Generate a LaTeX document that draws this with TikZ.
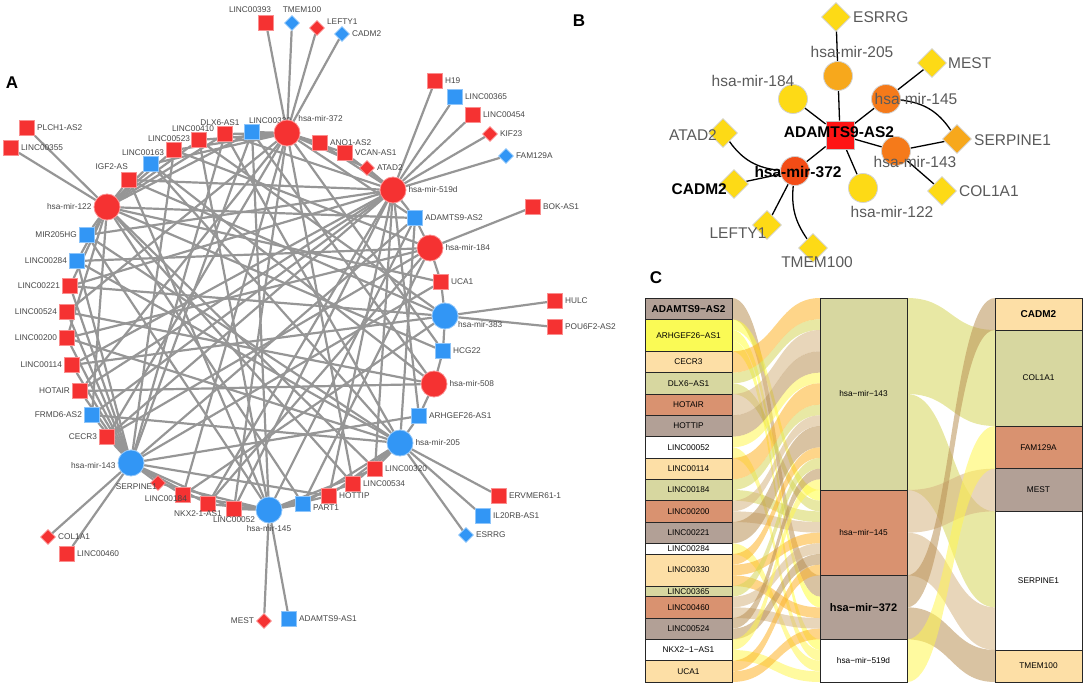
\documentclass[tikz,border=0pt]{standalone}
\usepackage{fontspec}
\setmainfont{Liberation Sans}
\usetikzlibrary{shapes.geometric}
\pgfdeclarelayer{bg}
\pgfsetlayers{bg,main}
% panel A colours
\definecolor{ared}{RGB}{245,50,50}
\definecolor{ablue}{RGB}{50,150,245}
\definecolor{agray}{RGB}{150,150,150}
\definecolor{atext}{RGB}{70,70,70}
% panel B colours
\definecolor{bred}{RGB}{255,20,20}
\definecolor{byel}{RGB}{253,218,22}
\definecolor{bora}{RGB}{247,168,28}
\definecolor{bdor}{RGB}{245,122,26}
\definecolor{bver}{RGB}{243,76,22}
\definecolor{btext}{RGB}{90,90,90}
% panel C colours
\definecolor{cTaupe}{RGB}{178,160,150}
\definecolor{cYel}{RGB}{250,250,85}
\definecolor{cOra}{RGB}{253,223,166}
\definecolor{cOli}{RGB}{215,215,160}
\definecolor{cSal}{RGB}{217,146,112}
\definecolor{fTaupe}{RGB}{185,145,85}
\definecolor{fYel}{RGB}{255,255,60}
\definecolor{fOra}{RGB}{253,178,40}
\definecolor{fOli}{RGB}{214,214,90}
\definecolor{fSal}{RGB}{214,180,130}
\definecolor{fWhi}{RGB}{255,245,80}
\newcommand{\cnorm}{\fontsize{8.3}{9}\selectfont}
\newcommand{\cbold}{\fontsize{10}{11}\selectfont\bfseries}
\newcommand{\cbig}{\fontsize{11}{12}\selectfont\bfseries}
% alluvial band: x1, slot1, x2, slot2, width, colour
\newcommand{\cflow}[6]{%
  \fill[flow=#6] (#1,{298+10.667*(#2)}) .. controls ({(#1+#3)/2},{298+10.667*(#2)}) and ({(#1+#3)/2},{298+10.667*(#4)}) .. (#3,{298+10.667*(#4)})
    -- (#3,{298+10.667*(#4+#5)}) .. controls ({(#1+#3)/2},{298+10.667*(#4+#5)}) and ({(#1+#3)/2},{298+10.667*(#2+#5)}) .. (#1,{298+10.667*(#2+#5)}) -- cycle;}
\tikzset{
  asq/.style={rectangle, fill=#1, draw=#1!55!white, line width=0.8pt, minimum size=15pt, inner sep=0pt},
  adia/.style={diamond, fill=#1, draw=#1!55!white, line width=0.8pt, minimum size=15pt, inner sep=0pt},
  acir/.style={circle, fill=#1, draw=#1!55!white, line width=0.8pt, minimum size=26pt, inner sep=0pt},
  alab/.style={font=\fontsize{8.3}{9}\selectfont, text=atext, inner sep=1pt},
  aline/.style={draw=agray, line width=2.2pt},
  bcir/.style={circle, fill=#1, draw=gray!35, line width=0.8pt, minimum size=29pt, inner sep=0pt},
  bdia/.style={diamond, fill=#1, draw=gray!35, line width=0.8pt, minimum size=29pt, inner sep=0pt},
  bsq/.style={rectangle, fill=bred, draw=gray!45, line width=0.8pt, minimum size=28pt, inner sep=0pt},
  blab/.style={font=\fontsize{15.5}{17}\selectfont, text=btext, inner sep=0pt},
  bbold/.style={font=\fontsize{15.5}{17}\selectfont\bfseries, text=black, inner sep=0pt},
  bline/.style={draw=black, line width=1.3pt},
  cbox/.style={rectangle, fill=#1, draw=black!85, line width=0.8pt, minimum width=87pt, inner sep=0pt},
  flow/.style={fill=#1, fill opacity=0.55},
  panel/.style={font=\fontsize{17}{18}\selectfont\bfseries}
}
\begin{document}
\begin{tikzpicture}[x=1pt,y=-1pt,label distance=1pt]
  \useasboundingbox (0,0) rectangle (1084,684);
  \node[panel] (labA) at (12,83) {A};
  \node[panel] (labB) at (579,21) {B};
  \node[panel] (labC) at (656,278) {C};

  % ---------------- panel A ----------------
  % outer targets
  \node[asq=ared, label={[alab]right:PLCH1-AS2}] (aPLCH) at (27,128) {};
  \node[asq=ared, label={[alab]right:LINC00355}] (aL355) at (11,148) {};
  \node[asq=ared, label={[alab,xshift=-16pt]above:LINC00393}] (aL393) at (266,23) {};
  \node[adia=ablue, label={[alab,xshift=10pt]above:TMEM100}] (aTMEM) at (292,23) {};
  \node[adia=ared, label={[alab,yshift=6pt]right:LEFTY1}] (aLEFTY) at (317,28) {};
  \node[adia=ablue, label={[alab]right:CADM2}] (aCADM2) at (342,34) {};
  \node[asq=ared, label={[alab]right:H19}] (aH19) at (435,81) {};
  \node[asq=ablue, label={[alab]right:LINC00365}] (aL365) at (455,97) {};
  \node[asq=ared, label={[alab]right:LINC00454}] (aL454) at (473,115) {};
  \node[adia=ared, label={[alab]right:KIF23}] (aKIF23) at (490,134) {};
  \node[adia=ablue, label={[alab]right:FAM129A}] (aFAM) at (506,156) {};
  \node[asq=ared, label={[alab]right:BOK-AS1}] (aBOK) at (533,207) {};
  \node[asq=ared, label={[alab]right:HULC}] (aHULC) at (555,301) {};
  \node[asq=ared, label={[alab]right:POU6F2-AS2}] (aPOU) at (555,327) {};
  \node[asq=ared, label={[alab]right:ERVMER61-1}] (aERV) at (499,496) {};
  \node[asq=ablue, label={[alab]right:IL20RB-AS1}] (aIL20) at (483,516) {};
  \node[adia=ablue, label={[alab]right:ESRRG}] (aESRRG) at (466,535) {};
  \node[adia=ared, label={[alab]left:MEST}] (aMEST) at (264,621) {};
  \node[asq=ablue, label={[alab]right:ADAMTS9-AS1}] (aADAS1) at (289,619) {};
  \node[adia=ared, label={[alab]right:COL1A1}] (aCOL1) at (48,537) {};
  \node[asq=ared, label={[alab]right:LINC00460}] (aL460) at (67,554) {};
  % ring of lncRNAs
  \node[asq=ared, label={[alab,anchor=south east]north:IGF2-AS}] (aIGF2) at (129,180) {};
  \node[asq=ablue, label={[alab,xshift=-8pt,yshift=-2pt]above:LINC00163}] (aL163) at (151,164) {};
  \node[asq=ared, label={[alab,xshift=-5pt,yshift=-2pt]above:LINC00523}] (aL523) at (174,150) {};
  \node[asq=ared, label={[alab,xshift=-6pt,yshift=-2pt]above:LINC00410}] (aL410) at (199,140) {};
  \node[asq=ared, label={[alab,xshift=-5pt,yshift=-2pt]above:DLX6-AS1}] (aDLX6) at (225,134) {};
  \node[asq=ablue, label={[alab,xshift=18pt,yshift=-2pt]above:LINC00330}] (aL330) at (252,132) {};
  \node[asq=ared, label={[alab]right:ANO1-AS2}] (aANO1) at (320,143) {};
  \node[asq=ared, label={[alab]right:VCAN-AS1}] (aVCAN) at (345,153) {};
  \node[adia=ared, label={[alab]right:ATAD2}] (aATAD2) at (367,168) {};
  \node[asq=ablue, label={[alab]right:ADAMTS9-AS2}] (aADAS2) at (415,218) {};
  \node[asq=ared, label={[alab]right:UCA1}] (aUCA1) at (441,282) {};
  \node[asq=ablue, label={[alab]right:HCG22}] (aHCG22) at (443,351) {};
  \node[asq=ablue, label={[alab]right:ARHGEF26-AS1}] (aARHG) at (419,416) {};
  \node[asq=ared, label={[alab]right:LINC00320}] (aL320) at (375,469) {};
  \node[asq=ared, label={[alab]right:LINC00534}] (aL534) at (353,484) {};
  \node[asq=ared, label={[alab]right:HOTTIP}] (aHOTTIP) at (329,496) {};
  \node[asq=ablue, label={[alab,yshift=-4pt]right:PART1}] (aPART1) at (303,504) {};
  \node[asq=ared, label={[alab,yshift=2pt]below:LINC00052}] (aL052) at (234,509) {};
  \node[asq=ared, label={[alab,xshift=-10pt,yshift=3pt]below:NKX2-1-AS1}] (aNKX2) at (208,504) {};
  \node[asq=ared, label={[alab,xshift=14pt,yshift=-4pt]left:LINC00184}] (aL184) at (183,495) {};
  \node[adia=ared, label={[alab,xshift=9pt,yshift=-4pt]left:SERPINE1}] (aSERP) at (158,483) {};
  \node[asq=ared, label={[alab]left:CECR3}] (aCECR3) at (107,437) {};
  \node[asq=ablue, label={[alab]left:FRMD6-AS2}] (aFRMD6) at (92,415) {};
  \node[asq=ared, label={[alab]left:HOTAIR}] (aHOTAIR) at (80,391) {};
  \node[asq=ared, label={[alab]left:LINC00114}] (aL114) at (72,365) {};
  \node[asq=ared, label={[alab]left:LINC00200}] (aL200) at (67,338) {};
  \node[asq=ared, label={[alab]left:LINC00524}] (aL524) at (67,312) {};
  \node[asq=ared, label={[alab]left:LINC00221}] (aL221) at (70,286) {};
  \node[asq=ablue, label={[alab]left:LINC00284}] (aL284) at (77,261) {};
  \node[asq=ablue, label={[alab]left:MIR205HG}] (aMIR205) at (87,235) {};
  % miRNA hubs
  \node[acir=ared, label={[alab,anchor=south west]north east:hsa-mir-372}] (am372) at (287,133) {};
  \node[acir=ared, label={[alab]right:hsa-mir-519d}] (am519) at (393,190) {};
  \node[acir=ared, label={[alab]left:hsa-mir-122}] (am122) at (107,207) {};
  \node[acir=ared, label={[alab]right:hsa-mir-184}] (am184) at (430,248) {};
  \node[acir=ablue, label={[alab,anchor=west]-35:hsa-mir-383}] (am383) at (445,316) {};
  \node[acir=ared, label={[alab]right:hsa-mir-508}] (am508) at (434,384) {};
  \node[acir=ablue, label={[alab]right:hsa-mir-205}] (am205) at (400,443) {};
  \node[acir=ablue, label={[alab,yshift=-3pt]left:hsa-mir-143}] (am143) at (131,463) {};
  \node[acir=ablue, label={[alab]below:hsa-mir-145}] (am145) at (269,510) {};
  \begin{pgfonlayer}{bg}
    \foreach \p/\q in {am122/aPLCH, am122/aL355, am372/aL393, am372/aTMEM, am372/aLEFTY, am372/aCADM2,
        am519/aH19, am519/aL365, am519/aL454, am519/aKIF23, am519/aFAM, am184/aBOK, am383/aHULC, am383/aPOU,
        am205/aERV, am205/aIL20, am205/aESRRG, am145/aMEST, am145/aADAS1, am143/aCOL1, am143/aL460,
        am372/aANO1, am519/aANO1, am372/aVCAN, am519/aVCAN, am372/aATAD2, am519/aATAD2,
        aIGF2/am122, aIGF2/am519, aIGF2/am383, aIGF2/am145,
        aL163/am122, aL163/am372, aL163/am508, aL163/am205,
        aL523/am122, aL523/am372, aL523/am143, aL523/am184,
        aL410/am122, aL410/am372, aL410/am145, aL410/am383,
        aDLX6/am122, aDLX6/am372, aDLX6/am143, aDLX6/am205, aDLX6/am519,
        aL330/am372, aL330/am122, aL330/am143, aL330/am145, aL330/am508,
        aADAS2/am519, aADAS2/am184, aADAS2/am205, aADAS2/am145, aADAS2/am143, aADAS2/am372, aADAS2/am122,
        aUCA1/am184, aUCA1/am383, aUCA1/am143, aUCA1/am122,
        aHCG22/am383, aHCG22/am508, aHCG22/am122, aHCG22/am372,
        aARHG/am508, aARHG/am205, aARHG/am143, aARHG/am519,
        aL320/am205, aL320/am145, aL320/am122, aL320/am519,
        aL534/am205, aL534/am145, aL534/am372, aL534/am122,
        aHOTTIP/am205, aHOTTIP/am145, aHOTTIP/am519, aHOTTIP/am143,
        aPART1/am145, aPART1/am205, aPART1/am122, aPART1/am184,
        aL052/am145, aL052/am143, aL052/am519, aL052/am372,
        aNKX2/am145, aNKX2/am143, aNKX2/am519, aNKX2/am184,
        aL184/am143, aL184/am145, aL184/am372, aL184/am383,
        aSERP/am143, aSERP/am145,
        aCECR3/am143, aCECR3/am519, aCECR3/am184, aCECR3/am372,
        aFRMD6/am143, aFRMD6/am519, aFRMD6/am205, aFRMD6/am122,
        aHOTAIR/am143, aHOTAIR/am372, aHOTAIR/am508, aHOTAIR/am519,
        aL114/am143, aL114/am383, aL114/am519,
        aL200/am143, aL200/am122, aL200/am184, aL200/am205,
        aL524/am143, aL524/am372, aL524/am508,
        aL221/am143, aL221/am519, aL221/am122, aL221/am383,
        aL284/am122, aL284/am143, aL284/am205, aL284/am184,
        aMIR205/am122, aMIR205/am205, aMIR205/am519, aMIR205/am145}
      \draw[aline] (\p) -- (\q);
  \end{pgfonlayer}

  % ---------------- panel B ----------------
  \node[bsq] (bAD) at (840,135) {};
  \node[bcir=bora] (bm205) at (838,76) {};
  \node[bcir=byel] (bm184) at (793,99) {};
  \node[bcir=bdor] (bm145) at (886,99) {};
  \node[bcir=bdor] (bm143) at (896,151) {};
  \node[bcir=bver] (bm372) at (795,171) {};
  \node[bcir=byel] (bm122) at (863,188) {};
  \node[bdia=byel] (bESRRG) at (836,17) {};
  \node[bdia=byel] (bMEST) at (932,63) {};
  \node[bdia=byel] (bATAD2) at (723,133) {};
  \node[bdia=bora] (bSERP) at (957,139) {};
  \node[bdia=byel] (bCADM2) at (734,184) {};
  \node[bdia=byel] (bCOL1) at (942,191) {};
  \node[bdia=byel] (bLEFTY) at (767,225) {};
  \node[bdia=byel] (bTMEM) at (813,248) {};
  \begin{pgfonlayer}{bg}
    \foreach \q in {bm205, bm184, bm145, bm143, bm372, bm122}
      \draw[bline] (bAD) -- (\q);
    \draw[bline] (bm205) -- (bESRRG);
    \draw[bline] (bm145) -- (bMEST);
    \draw[bline] (bm145) to[bend left=25] (bSERP);
    \draw[bline] (bm143) -- (bSERP);
    \draw[bline] (bm143) -- (bCOL1);
    \draw[bline] (bATAD2) to[bend right=25] (bm372);
    \draw[bline] (bm372) -- (bCADM2);
    \draw[bline] (bm372) -- (bLEFTY);
    \draw[bline] (bm372) to[bend right=20] (bTMEM);
  \end{pgfonlayer}
  \node[blab, anchor=west] (tESRRG) at (853,17) {ESRRG};
  \node[blab] (tm205) at (852,52) {hsa-mir-205};
  \node[blab, anchor=west] (tMEST) at (948,63) {MEST};
  \node[blab] (tm184) at (753,81) {hsa-mir-184};
  \node[blab] (tm145) at (916,99) {hsa-mir-145};
  \node[bbold] (tAD) at (839,132) {ADAMTS9-AS2};
  \node[blab, anchor=east] (tATAD2) at (717,135) {ATAD2};
  \node[blab, anchor=west] (tSERP) at (974,140) {SERPINE1};
  \node[blab] (tm143) at (915,162) {hsa-mir-143};
  \node[bbold] (tm372) at (798,172) {hsa-mir-372};
  \node[bbold, anchor=east] (tCADM2) at (727,189) {CADM2};
  \node[blab] (tm122) at (892,212) {hsa-mir-122};
  \node[blab, anchor=west] (tCOL1) at (959,191) {COL1A1};
  \node[blab] (tLEFTY) at (738,233) {LEFTY1};
  \node[blab] (tTMEM) at (817,262) {TMEM100};

  % ---------------- panel C ----------------
  % lncRNA -> miRNA bands
  \foreach \ka/\kb/\n/\fc in {0/26/2/fTaupe, 2/18/1/fYel, 3/28/1/fYel, 4/32/1/fYel, 5/0/2/fOra,
      7/2/1/fOli, 8/19/1/fOli, 9/3/2/fSal, 11/5/2/fTaupe, 13/7/1/fWhi, 14/33/1/fWhi, 15/8/2/fOra,
      17/10/1/fOli, 18/20/1/fOli, 19/11/1/fSal, 20/21/1/fSal, 21/12/2/fTaupe, 23/34/1/fWhi,
      24/14/1/fOra, 25/22/1/fOra, 26/29/1/fOra, 27/15/1/fOli, 28/23/1/fSal, 29/30/1/fSal,
      30/16/1/fTaupe, 31/24/1/fTaupe, 32/17/1/fWhi, 33/35/1/fWhi, 34/25/1/fOra, 35/31/1/fOra}
    \cflow{732}{\ka}{820}{\kb}{\n}{\fc};
  % miRNA -> target bands
  \foreach \ka/\kb/\n/\fc in {0/3/9/fOli, 9/20/9/fOli, 18/16/4/fSal, 22/29/4/fSal,
      26/0/3/fTaupe, 29/33/3/fTaupe, 32/12/4/fWhi}
    \cflow{907}{\ka}{995}{\kb}{\n}{\fc};
  % strata
  \foreach \f/\txt/\k/\n/\col in {\cbold/ADAMTS9−AS2/0/2/cTaupe, \cnorm/ARHGEF26−AS1/2/3/cYel,
      \cnorm/CECR3/5/2/cOra, \cnorm/DLX6−AS1/7/2/cOli, \cnorm/HOTAIR/9/2/cSal, \cnorm/HOTTIP/11/2/cTaupe,
      \cnorm/LINC00052/13/2/white, \cnorm/LINC00114/15/2/cOra, \cnorm/LINC00184/17/2/cOli,
      \cnorm/LINC00200/19/2/cSal, \cnorm/LINC00221/21/2/cTaupe, \cnorm/LINC00284/23/1/white,
      \cnorm/LINC00330/24/3/cOra, \cnorm/LINC00365/27/1/cOli, \cnorm/LINC00460/28/2/cSal,
      \cnorm/LINC00524/30/2/cTaupe, \cnorm/NKX2−1−AS1/32/2/white, \cnorm/UCA1/34/2/cOra}
    \node[cbox=\col, font=\f, minimum height=\n*10.667pt] (cL\k) at (688.5,{298+10.667*(\k+\n/2)}) {\txt};
  \foreach \f/\txt/\k/\n/\col in {\cnorm/hsa−mir−143/0/18/cOli, \cnorm/hsa−mir−145/18/8/cSal,
      \cbig/hsa−mir−372/26/6/cTaupe, \cnorm/hsa−mir−519d/32/4/white}
    \node[cbox=\col, font=\f, minimum height=\n*10.667pt] (cM\k) at (863.5,{298+10.667*(\k+\n/2)}) {\txt};
  \foreach \f/\txt/\k/\n/\col in {\cbold/CADM2/0/3/cOra, \cnorm/COL1A1/3/9/cOli, \cnorm/FAM129A/12/4/cSal,
      \cnorm/MEST/16/4/cTaupe, \cnorm/SERPINE1/20/13/white, \cnorm/TMEM100/33/3/cOra}
    \node[cbox=\col, font=\f, minimum height=\n*10.667pt] (cR\k) at (1038.5,{298+10.667*(\k+\n/2)}) {\txt};
\end{tikzpicture}
\end{document}
